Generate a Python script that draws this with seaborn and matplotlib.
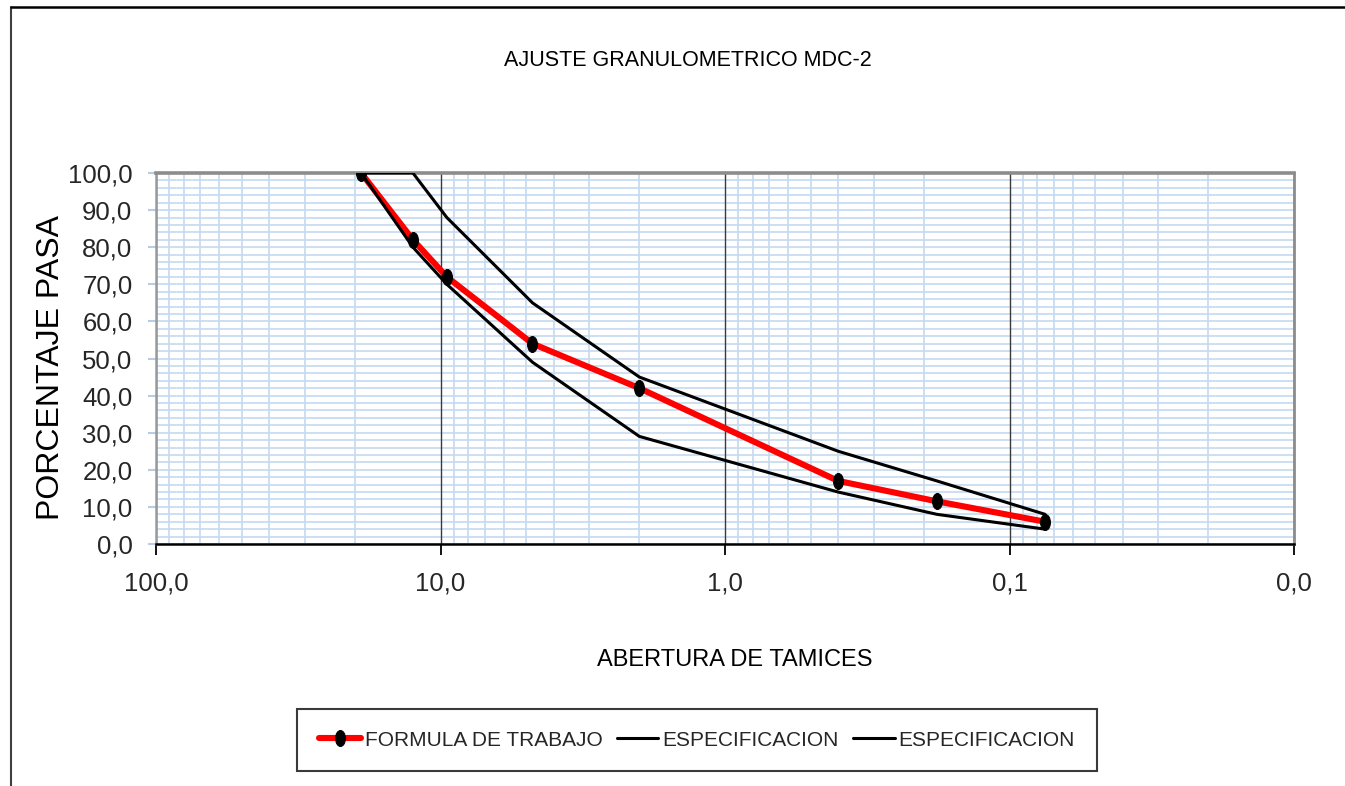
import matplotlib
matplotlib.use("Agg")
import numpy as np
import pandas as pd
import seaborn as sns
import matplotlib.pyplot as plt
from matplotlib import font_manager as fm
from matplotlib.path import Path
from matplotlib.transforms import Affine2D
from matplotlib.lines import Line2D
from matplotlib.ticker import FixedLocator, LogLocator, NullFormatter, MultipleLocator

# ---------------- data ----------------
abertura = [19.0, 12.5, 9.5, 4.75, 2.0, 0.40, 0.18, 0.075]
formula_trabajo = [100.0, 82.0, 72.0, 54.0, 42.0, 17.0, 11.5, 6.0]
especificacion_sup = [100.0, 100.0, 88.0, 65.0, 45.0, 25.0, 17.0, 8.0]
especificacion_inf = [100.0, 80.0, 70.0, 49.0, 29.0, 14.0, 8.0, 4.0]
series_labels = ["FORMULA DE TRABAJO", "ESPECIFICACION", "ESPECIFICACION"]
xtick_values = [100, 10, 1, 0.1, 0.01]
xtick_labels = ["100,0", "10,0", "1,0", "0,1", "0,0"]
ytick_values = [0, 10, 20, 30, 40, 50, 60, 70, 80, 90, 100]
ytick_labels = ["0,0", "10,0", "20,0", "30,0", "40,0", "50,0", "60,0",
                "70,0", "80,0", "90,0", "100,0"]
title_text = "AJUSTE GRANULOMETRICO MDC-2"
xlabel_text = "ABERTURA DE TAMICES"
ylabel_text = "PORCENTAJE PASA"

sns.set_theme(style="white")
names = {f.name for f in fm.fontManager.ttflist}
NARROW = "Liberation Sans Narrow" in names
REG = "Liberation Sans" if "Liberation Sans" in names else "DejaVu Sans"
NAR = "Liberation Sans Narrow" if NARROW else REG
plt.rcParams["font.family"] = [REG, "DejaVu Sans"]

if NARROW:
    fs_tick, fs_xlab, fs_leg, fs_title = 20, 19, 17.5, 17
else:
    fs_tick, fs_xlab, fs_leg, fs_title = 18.5, 17, 15, 15.5
fs_ylab = 23

W, H = 1345, 786
fig = plt.figure(figsize=(W / 100, H / 100), dpi=100)
fig.patch.set_facecolor("white")
ax = fig.add_axes([156 / W, 1 - 544 / H, (1294 - 156) / W, (544 - 173) / H])

df = pd.DataFrame({
    "abertura": abertura * 3,
    "pasa": formula_trabajo + especificacion_sup + especificacion_inf,
    "serie": ["formula"] * len(abertura) + ["sup"] * len(abertura) + ["inf"] * len(abertura),
})

ell = Path.unit_circle().transformed(Affine2D().scale(0.62, 1.0))

sns.lineplot(data=df[df.serie == "formula"], x="abertura", y="pasa", ax=ax,
             color="#ff0000", linewidth=4.4, marker=ell, markersize=11.5,
             markerfacecolor="black", markeredgecolor="black",
             errorbar=None, label=series_labels[0], zorder=3)
sns.lineplot(data=df[df.serie == "sup"], x="abertura", y="pasa", ax=ax,
             color="black", linewidth=2.2, errorbar=None,
             label=series_labels[1], zorder=4)
sns.lineplot(data=df[df.serie == "inf"], x="abertura", y="pasa", ax=ax,
             color="black", linewidth=2.2, errorbar=None,
             label=series_labels[2], zorder=4)

ax.set_xscale("log")
ax.set_xlim(100, 0.01)
ax.set_ylim(0, 100)
ax.xaxis.set_major_locator(FixedLocator(xtick_values))
ax.set_xticks(xtick_values, labels=xtick_labels)
ax.xaxis.set_minor_locator(LogLocator(base=10, subs=tuple(range(2, 10))))
ax.xaxis.set_minor_formatter(NullFormatter())
ax.set_yticks(ytick_values, labels=ytick_labels)
ax.yaxis.set_minor_locator(MultipleLocator(2))

ax.set_axisbelow(True)
ax.grid(which="minor", axis="both", color="#c6d9f0", linewidth=1.2)
ax.grid(which="major", axis="y", color="#c6d9f0", linewidth=1.2)
ax.grid(which="major", axis="x", color="#3a3a3a", linewidth=1.0, linestyle="-")
# keep the dark decade lines above the light horizontal grid
ax.yaxis.set_zorder(0.4)
ax.xaxis.set_zorder(0.6)

ax.tick_params(which="minor", length=0)
ax.tick_params(axis="y", which="major", direction="out", length=6, width=1.5,
               color="#b8cce4", pad=11, labelsize=fs_tick, left=True)
ax.tick_params(axis="x", which="major", direction="out", length=8, width=1.3,
               color="black", pad=12, labelsize=fs_tick, bottom=True)
for lab in ax.get_xticklabels() + ax.get_yticklabels():
    lab.set_fontfamily([NAR, "DejaVu Sans"])

ax.spines["top"].set_color("#8c8c8c")
ax.spines["top"].set_linewidth(2.6)
ax.spines["left"].set_color("#9a9a9a")
ax.spines["left"].set_linewidth(1.8)
ax.spines["right"].set_color("#8c8c8c")
ax.spines["right"].set_linewidth(2.0)
ax.spines["bottom"].set_color("black")
ax.spines["bottom"].set_linewidth(1.8)
ax.set_xlabel("")
ax.set_ylabel("")

if ax.get_legend() is not None:
    ax.get_legend().remove()

handles = ax.get_lines()[:3]
leg = fig.legend(handles, series_labels, loc="center",
                 bbox_to_anchor=(297 / W, 1 - 771 / H, 800 / W, 62 / H),
                 mode="expand", ncol=3, frameon=True, fancybox=False,
                 edgecolor="#3a3a3a", framealpha=1, handlelength=2.0,
                 handletextpad=0.2, borderpad=1.05, columnspacing=0.8,
                 borderaxespad=0.0,
                 prop={"family": [NAR, "DejaVu Sans"], "size": fs_leg})
leg.get_frame().set_linewidth(1.5)

fig.text(688 / W, 1 - 60 / H, title_text, ha="center", va="center",
         fontsize=fs_title, family=[NAR, "DejaVu Sans"], color="black")
fig.text(735 / W, 1 - 660 / H, xlabel_text, ha="center", va="center",
         fontsize=fs_xlab, family=[NAR, "DejaVu Sans"], color="black")
fig.text(51 / W, 1 - 367 / H, ylabel_text, ha="center", va="center",
         rotation=90, fontsize=fs_ylab, family=[REG, "DejaVu Sans"], color="black")

# outer chart border (partially visible frame)
fig.add_artist(Line2D([10.5 / W, 10.5 / W], [0, 1 - 6.5 / H],
                      transform=fig.transFigure, color="#404040", linewidth=1.5))
fig.add_artist(Line2D([10.5 / W, 1], [1 - 6.5 / H, 1 - 6.5 / H],
                      transform=fig.transFigure, color="black", linewidth=1.8))

fig.savefig("out.png", dpi=100, facecolor="white")
